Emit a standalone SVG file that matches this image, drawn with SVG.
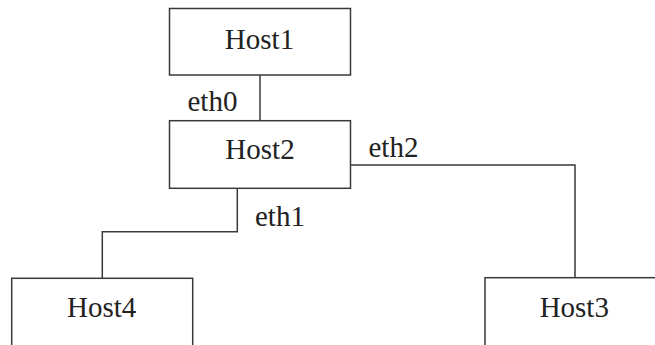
<svg xmlns="http://www.w3.org/2000/svg" width="655" height="345" viewBox="0 0 655 345">
<style>
.box{fill:#fff;stroke:#3a3a3a;stroke-width:1.5}
.lbl{font-family:"Liberation Serif","Times New Roman",serif;font-size:29px;fill:#222;text-anchor:middle}
.eth{font-family:"Liberation Serif","Times New Roman",serif;font-size:29px;fill:#222}
.wire{fill:none;stroke:#3a3a3a;stroke-width:1.5}
</style>
<rect width="655" height="345" fill="#fff"/>
<g id="connectors">
<path class="wire" d="M260,75 V120.7"/>
<path class="wire" d="M237.3,188.3 V231.7 H102.3 V278.3"/>
<path class="wire" d="M350.7,165 H575 V277.7"/>
<text class="eth" x="187.5" y="111">eth0</text>
<text class="eth" x="255" y="226">eth1</text>
<text class="eth" x="368.5" y="157">eth2</text>
</g>
<g id="host1">
<rect class="box" x="169.5" y="8.5" width="181" height="66.5"/>
<text class="lbl" x="259.5" y="48.5">Host1</text>
</g>
<g id="host2">
<rect class="box" x="169.5" y="120.7" width="181" height="67.6"/>
<text class="lbl" x="260" y="159">Host2</text>
</g>
<g id="host4">
<rect class="box" x="11.7" y="278.3" width="181" height="80"/>
<text class="lbl" x="101.7" y="317">Host4</text>
</g>
<g id="host3">
<rect class="box" x="485" y="277.7" width="181" height="80"/>
<text class="lbl" x="574.3" y="317">Host3</text>
</g>
</svg>
